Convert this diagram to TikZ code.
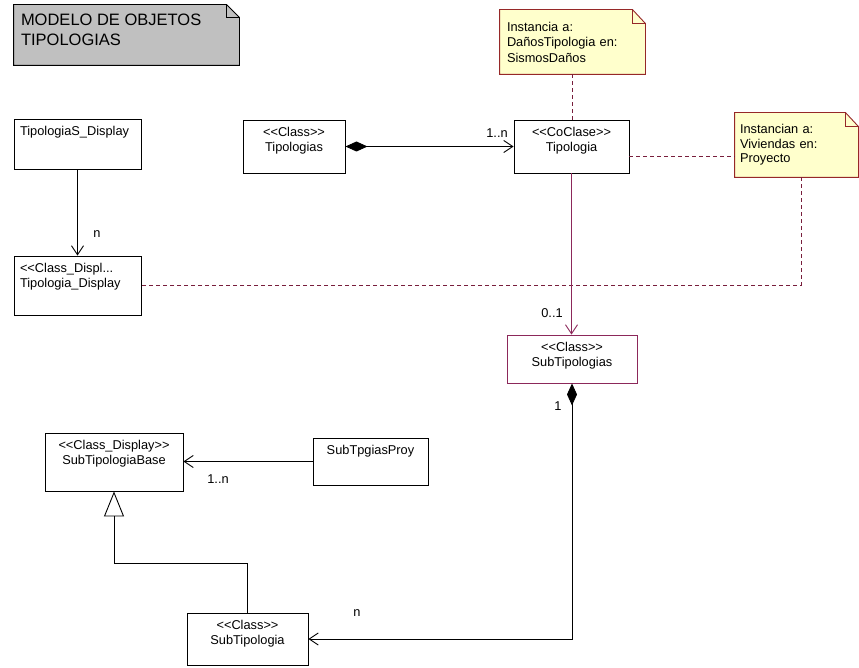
\documentclass[tikz,border=0pt]{standalone}
\usepackage{fontspec}
\setmainfont{Liberation Sans}
\usetikzlibrary{arrows.meta}
\definecolor{umlred}{RGB}{140,40,90}
\definecolor{dashred}{RGB}{120,30,60}
\definecolor{noteedge}{RGB}{150,40,40}
\definecolor{notebg}{RGB}{255,255,204}
\definecolor{pkggray}{RGB}{192,192,192}
\newcommand{\stm}[1]{<{}<#1>{}>}

\begin{document}
\begin{tikzpicture}[x=1pt,y=-1pt,line width=0.9pt,line cap=butt,line join=miter,
    font=\fontsize{12.8}{15.5}\selectfont,
    clsbox/.style={draw,fill=white,inner sep=0pt},
    clstxt/.style={anchor=north,align=center,inner sep=0pt,yshift=-7pt},
    clstxtl/.style={anchor=north west,align=left,inner sep=0pt,xshift=6pt,yshift=-7pt},
    notebox/.style={fill=notebg,inner sep=0pt,align=left},
    depline/.style={draw=dashred,dash pattern=on 4pt off 3pt},
    navi/.style={-{Straight Barb[length=9pt,width=12pt]}},
    compo/.style={{Diamond[length=22pt,width=10pt]}-{Straight Barb[length=9pt,width=12pt]}},
    genz/.style={-{Triangle[open,length=25pt,width=20pt]}},
    mult/.style={inner sep=0pt}]
  \path[use as bounding box] (0,0) rectangle (859,668);   % canvas 859x668 px, 1px = 1pt
  % ---- package note (top left) ----
  \node[fill=pkggray,inner sep=0pt,minimum width=225pt,minimum height=60pt,
        label={[anchor=north west,align=left,inner sep=0pt,xshift=7pt,yshift=-9pt,
                font=\fontsize{16.5}{20}\selectfont]north west:{MODELO DE OBJETOS\\TIPOLOGIAS}}]
        (pkg) at (126.5,35) {};
  \fill[white] ([xshift=-13pt]pkg.north east) -- (pkg.north east) -- ([yshift=-13pt]pkg.north east) -- cycle;
  \draw (pkg.south west) -- (pkg.north west) -- ([xshift=-13pt]pkg.north east)
        -- ([yshift=-13pt]pkg.north east) -- (pkg.south east) -- cycle;
  \draw ([xshift=-13pt]pkg.north east) |- ([yshift=-13pt]pkg.north east);
  % ---- classes ----
  \node[clsbox,minimum width=127pt,minimum height=50pt,
        label={[clstxtl]north west:TipologiaS\_Display}] (tsdisp) at (77.5,144) {};
  \node[clsbox,minimum width=102pt,minimum height=53pt,
        label={[clstxt]north:{\stm{Class}\\Tipologias}}] (tipos) at (294,146.5) {};
  \node[clsbox,minimum width=115pt,minimum height=53pt,
        label={[clstxt]north:{\stm{CoClase}\\Tipologia}}] (tipo) at (571.5,146.5) {};
  \node[clsbox,minimum width=127pt,minimum height=59pt,
        label={[clstxtl]north west:{<{}<Class\_Displ...\\Tipologia\_Display}}] (tdisp) at (77.5,285.5) {};
  \node[clsbox,draw=umlred,minimum width=130pt,minimum height=48pt,
        label={[clstxt]north:{\stm{Class}\\SubTipologias}}] (subs) at (572,359) {};
  \node[clsbox,minimum width=138pt,minimum height=58pt,
        label={[clstxt]north:{\stm{Class\_Display}\\SubTipologiaBase}}] (subbase) at (114,462) {};
  \node[clsbox,minimum width=115pt,minimum height=47pt,
        label={[clstxt]north:SubTpgiasProy}] (proy) at (370.5,461.5) {};
  \node[clsbox,minimum width=121pt,minimum height=52pt,
        label={[clstxt]north:{\stm{Class}\\SubTipologia}}] (subtip) at (247.5,639) {};
  % ---- notes ----
  \node[notebox,minimum width=145pt,minimum height=64pt,text width=131pt] (n1) at (572.5,42)
        {Instancia a:\\DañosTipologia en:\\SismosDaños};
  \node[notebox,minimum width=123pt,minimum height=64pt,text width=113pt,
        font=\fontsize{12.8}{14.5}\selectfont] (n2) at (796.5,145)
        {Instancian a:\\Viviendas en:\\Proyecto\\[-7pt]};
  \foreach \nn in {n1,n2} {
    \fill[white] ([xshift=-13pt]\nn.north east) -- (\nn.north east) -- ([yshift=-14pt]\nn.north east) -- cycle;
    \draw[noteedge] (\nn.south west) -- (\nn.north west) -- ([xshift=-13pt]\nn.north east)
          -- ([yshift=-14pt]\nn.north east) -- (\nn.south east) -- cycle;
    \draw[noteedge] ([xshift=-13pt]\nn.north east) |- ([yshift=-14pt]\nn.north east);
  }
  % ---- connectors ----
  \draw[navi] (tsdisp.south) -- (tdisp.north);
  \node[mult] (mtd) at (97,234) {n};
  \draw[compo] (tipos.east) -- (tipo.west);
  \node[mult] (mtp) at (497,133) {1..n};
  \draw[depline] (n1.south) -- (n1.south |- tipo.north);
  \coordinate (tpR) at ([yshift=-9.5pt]tipo.east);
  \draw[depline] (tpR) -- (tpR -| n2.west);
  \draw[depline] ([xshift=4.5pt]n2.south) |- (tdisp.east);
  \draw[navi,umlred] (tipo.south) -- (tipo.south |- subs.north);
  \node[mult] (msb) at (552,313) {0..1};
  \draw[compo] (subs.south) |- (subtip.east);
  \node[mult] (mso) at (558,406) {1};
  \node[mult] (mst) at (357,613) {n};
  \draw[navi] (proy.west) -- (proy.west -| subbase.east);
  \node[mult] (mpy) at (218,479) {1..n};
  \draw[genz] (subtip.north) -- ++(0,-49) -| (subbase.south);
\end{tikzpicture}
\end{document}
